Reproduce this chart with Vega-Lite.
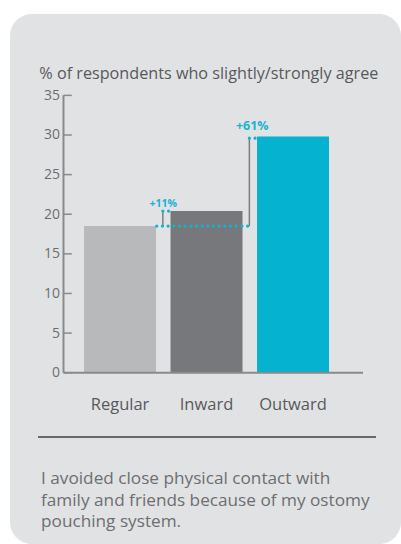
{
  "$schema": "https://vega.github.io/schema/vega-lite/v6.json",
  "width": 391,
  "height": 530,
  "padding": {"left": 10, "top": 14, "right": 0, "bottom": 0},
  "autosize": {"type": "none"},
  "background": "white",
  "config": {"view": {"fill": "#e1e2e4", "stroke": null, "cornerRadius": 22}, "font": "Open Sans", "text": {"font": "Open Sans"}},
  "layer": [
    {
      "data": {"values": [{"cat": "Regular", "v": 18.5}, {"cat": "Inward", "v": 20.4}, {"cat": "Outward", "v": 29.8}]},
      "mark": {"type": "bar"},
      "encoding": {
        "x": {"field": "cat", "type": "nominal", "title": null, "scale": {"domain": ["Regular", "Inward", "Outward"], "paddingInner": 0.1676, "paddingOuter": 0.844, "align": 0.507},
          "axis": {"orient": "bottom", "offset": -171.3, "domain": false, "ticks": false, "labelAngle": 0, "labelPadding": 24, "labelFontSize": 16.5, "labelColor": "#58595b", "labelFont": "Open Sans", "title": null}},
        "y": {"field": "v", "type": "quantitative", "title": null, "scale": {"domain": [-21.62, 45.27], "nice": false, "zero": false},
          "axis": {"values": [0, 5, 10, 15, 20, 25, 30, 35], "offset": -53.5, "domain": false, "grid": false, "ticks": false, "labelPadding": 4, "labelFontSize": 14, "labelColor": "#6d6e70", "labelFont": "Open Sans", "title": null}},
        "y2": {"datum": 0},
        "color": {"field": "cat", "type": "nominal", "scale": {"domain": ["Regular", "Inward", "Outward"], "range": ["#b8b9bb", "#77787b", "#05b2d0"]}, "legend": null}
      }
    },
    {
      "data": {"values": [{"cat": "Regular", "a": 0}, {"cat": "Regular", "a": 5}, {"cat": "Regular", "a": 10}, {"cat": "Regular", "a": 15}, {"cat": "Regular", "a": 20}, {"cat": "Regular", "a": 25}, {"cat": "Regular", "a": 30}, {"cat": "Regular", "a": 35}]},
      "mark": {"type": "rule", "stroke": "#8a8a8a", "strokeWidth": 1.5},
      "encoding": {
        "x": {"field": "cat", "type": "nominal", "bandPosition": -0.285, "title": null},
        "x2": {"field": "cat", "bandPosition": -0.17},
        "y": {"field": "a", "type": "quantitative", "title": null}
      }
    },
    {
      "data": {"values": [{"cat": "Regular", "a": 0, "b": 35}]},
      "mark": {"type": "rule", "stroke": "#8a8a8a", "strokeWidth": 2},
      "encoding": {
        "x": {"field": "cat", "type": "nominal", "bandPosition": -0.285, "title": null},
        "y": {"field": "a", "type": "quantitative", "title": null},
        "y2": {"field": "b"}
      }
    },
    {
      "data": {"values": [{"cat": "Regular", "cat2": "Outward", "a": 0}]},
      "mark": {"type": "rule", "stroke": "#8a8a8a", "strokeWidth": 2},
      "encoding": {
        "x": {"field": "cat", "type": "nominal", "bandPosition": -0.285, "title": null},
        "x2": {"field": "cat2", "bandPosition": 1.472},
        "y": {"field": "a", "type": "quantitative", "title": null}
      }
    },
    {
      "data": {"values": [{"cat": "Regular", "cat2": "Outward", "a": -8.12}]},
      "mark": {"type": "rule", "stroke": "#3f4042", "strokeWidth": 1.5},
      "encoding": {
        "x": {"field": "cat", "type": "nominal", "bandPosition": -0.639, "title": null},
        "x2": {"field": "cat2", "bandPosition": 1.653},
        "y": {"field": "a", "type": "quantitative", "title": null}
      }
    },
    {
      "data": {"values": [{"cat": "Regular", "a": 18.5, "b": 20.4}, {"cat": "Inward", "a": 18.5, "b": 29.6}]},
      "mark": {"type": "rule", "stroke": "#7d7e80", "strokeWidth": 1.5},
      "encoding": {
        "x": {"field": "cat", "type": "nominal", "bandPosition": 1.095, "title": null},
        "y": {"field": "a", "type": "quantitative", "title": null},
        "y2": {"field": "b"}
      }
    },
    {
      "data": {"values": [{"cat": "Regular", "cat2": "Inward", "a": 18.5}]},
      "mark": {"type": "rule", "stroke": "#12b3d2", "strokeWidth": 3.2, "strokeDash": [0.01, 5.67], "strokeCap": "round"},
      "encoding": {
        "x": {"field": "cat", "type": "nominal", "bandPosition": 1.01, "title": null},
        "x2": {"field": "cat2", "bandPosition": 1.11},
        "y": {"field": "a", "type": "quantitative", "title": null}
      }
    },
    {
      "data": {"values": [{"cat": "Regular", "cat2": "Inward", "a": 20.4}, {"cat": "Inward", "cat2": "Outward", "a": 29.6}]},
      "mark": {"type": "rule", "stroke": "#12b3d2", "strokeWidth": 3.2, "strokeDash": [0.01, 5.67], "strokeCap": "round"},
      "encoding": {
        "x": {"field": "cat", "type": "nominal", "bandPosition": 1.095, "title": null},
        "x2": {"field": "cat2", "bandPosition": -0.02},
        "y": {"field": "a", "type": "quantitative", "title": null}
      }
    },
    {
      "data": {"values": [{"cat": "Regular", "a": 21.29, "t": "+11%"}]},
      "mark": {"type": "text", "fontSize": 10.5, "fontWeight": "bold", "fill": "#1ab3d1", "baseline": "middle", "align": "center"},
      "encoding": {
        "x": {"field": "cat", "type": "nominal", "bandPosition": 1.101, "title": null},
        "y": {"field": "a", "type": "quantitative", "title": null},
        "text": {"field": "t"}
      }
    },
    {
      "data": {"values": [{"cat": "Inward", "a": 31.11, "t": "+61%"}]},
      "mark": {"type": "text", "fontSize": 12.5, "fontWeight": "bold", "fill": "#1ab3d1", "baseline": "middle", "align": "center"},
      "encoding": {
        "x": {"field": "cat", "type": "nominal", "bandPosition": 1.135, "title": null},
        "y": {"field": "a", "type": "quantitative", "title": null},
        "text": {"field": "t"}
      }
    },
    {
      "data": {"values": [{"cat": "Regular", "a": 37.07, "t": "% of respondents who slightly/strongly agree"}]},
      "mark": {"type": "text", "fontSize": 16.2, "fill": "#58595b", "baseline": "alphabetic", "align": "left"},
      "encoding": {
        "x": {"field": "cat", "type": "nominal", "bandPosition": -0.621, "title": null},
        "y": {"field": "a", "type": "quantitative", "title": null},
        "text": {"field": "t"}
      }
    },
    {
      "data": {"values": [{"cat": "Regular", "a": -14.05, "t": "I avoided close physical contact with\nfamily and friends because of my ostomy\npouching system."}]},
      "mark": {"type": "text", "fontSize": 17.2, "fill": "#6d6e70", "baseline": "alphabetic", "align": "left", "lineBreak": "\n", "lineHeight": 21.5},
      "encoding": {
        "x": {"field": "cat", "type": "nominal", "bandPosition": -0.597, "title": null},
        "y": {"field": "a", "type": "quantitative", "title": null},
        "text": {"field": "t"}
      }
    }
  ]
}
